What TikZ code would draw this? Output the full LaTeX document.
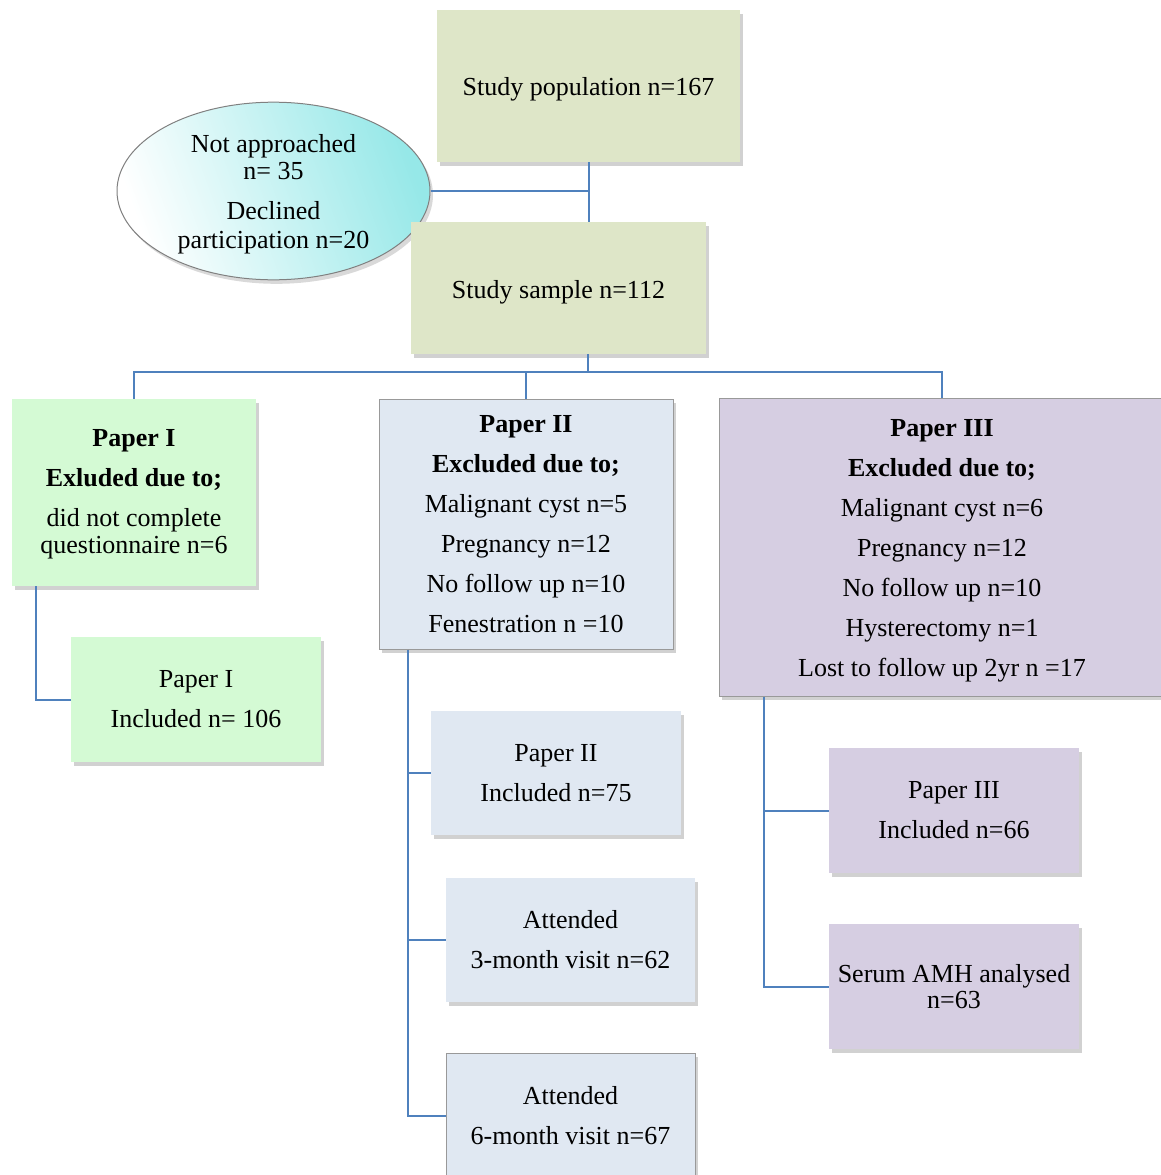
\documentclass[tikz,border=0pt]{standalone}
\usepackage{fontspec}
\setmainfont{Liberation Serif}
\usepackage{tikz}
\usetikzlibrary{calc,shapes.geometric,shadows}

\definecolor{linkblue}{RGB}{79,129,189}
\definecolor{olivebox}{RGB}{222,230,200}
\definecolor{greenbox}{RGB}{212,250,212}
\definecolor{bluebox}{RGB}{224,232,242}
\definecolor{lilacbox}{RGB}{214,206,226}
\definecolor{cyanend}{RGB}{150,232,232}

\tikzset{
  boxtext/.style={font=\fontsize{26}{40}\selectfont, align=center, inner sep=0pt},
  flowbox/.style={boxtext, rectangle, draw=none,
    drop shadow={shadow xshift=3pt, shadow yshift=-4pt, opacity=0.3, fill=black!60}},
  edgebox/.style={flowbox, draw=black!40, line width=1pt},
  link/.style={draw=linkblue, line width=2pt},
}

\begin{document}
\begin{tikzpicture}[x=1pt,y=1pt,yscale=-1,xscale=1]
                \useasboundingbox (0,0) rectangle (1161,1175);
                % top of the chart
                \node [flowbox, fill=olivebox, minimum width=303, minimum height=152, text height=24pt, text depth=5.6pt] (pop) at (588.5,86) {Study population n=167};
                \node [boxtext, ellipse, draw=black!50, line width=1pt, left color=white, right color=cyanend, shading angle=110,
                  minimum width=313, minimum height=174, text height=120pt, text depth=5.6pt,
                  drop shadow={shadow xshift=3pt, shadow yshift=-4pt, opacity=0.25, fill=black!60}] (notin) at (273.5,191)
                  {Not approached\\[-13pt]n= 35\\Declined\\[-11pt]participation n=20};
                \node [flowbox, fill=olivebox, minimum width=295, minimum height=132, text height=26pt, text depth=5.6pt] (sample) at (558.5,288) {Study sample n=112};
                % the three papers
                \node [flowbox, fill=greenbox, minimum width=244, minimum height=187, text height=128pt, text depth=5.6pt] (paperI) at (134,492.5)
                  {\textbf{Paper I}\\\textbf{Exluded due to;}\\did not complete\\[-13pt]questionnaire n=6};
                \node [edgebox, fill=bluebox, minimum width=294, minimum height=250] (paperII) at (526,524)
                  {\textbf{Paper II}\\\textbf{Excluded due to;}\\Malignant cyst n=5\\Pregnancy n=12\\No follow up n=10\\Fenestration n =10};
                \node [edgebox, fill=lilacbox, minimum width=446, minimum height=298, text height=265pt, text depth=5.6pt] (paperIII) at (942,547)
                  {\textbf{Paper III}\\\textbf{Excluded due to;}\\Malignant cyst n=6\\Pregnancy n=12\\No follow up n=10\\Hysterectomy n=1\\Lost to follow up 2yr n =17};
                % included boxes
                \node [flowbox, fill=greenbox, minimum width=250, minimum height=125] (incI) at (196,699.5) {Paper I\\Included n= 106};
                \node [flowbox, fill=bluebox, minimum width=250, minimum height=124] (incII) at (556,773) {Paper II\\Included n=75};
                \node [flowbox, fill=bluebox, minimum width=249, minimum height=124] (visit3) at (570.5,940) {Attended\\3-month visit n=62};
                \node [edgebox, fill=bluebox, minimum width=249, minimum height=125] (visit6) at (570.5,1115.5) {Attended\\6-month visit n=67};
                \node [flowbox, fill=lilacbox, minimum width=250, minimum height=125] (incIII) at (954,810.5) {Paper III\\Included n=66};
                \node [flowbox, fill=lilacbox, minimum width=250, minimum height=125] (amh) at (954,986.5) {Serum AMH analysed\\[-14pt]n=63};
                % connectors
                \coordinate (bus) at (588,372);
                \coordinate (trunkI) at ([xshift=24pt]paperI.south west);
                \coordinate (trunkII) at ([xshift=29pt]paperII.south west);
                \coordinate (trunkIII) at ([xshift=45pt]paperIII.south west);
                \draw [link] (pop.south) -- (pop.south |- sample.north);
                \draw [link] (notin.east) -- (notin.east -| pop.south);
                \draw [link] (sample.south -| bus) -- (bus);
                \draw [link] (paperI.north) |- (bus) -| (paperIII.north);
                \draw [link] (paperII.north) -- (paperII.north |- bus);
                \draw [link] (trunkI) |- (incI.west);
                \draw [link] (trunkII) |- (visit6.west);
                \draw [link] (incII.west) -- (incII.west -| trunkII);
                \draw [link] (visit3.west) -- (visit3.west -| trunkII);
                \draw [link] (trunkIII) |- (amh.west);
                \draw [link] (incIII.west) -- (incIII.west -| trunkIII);
\end{tikzpicture}
\end{document}
